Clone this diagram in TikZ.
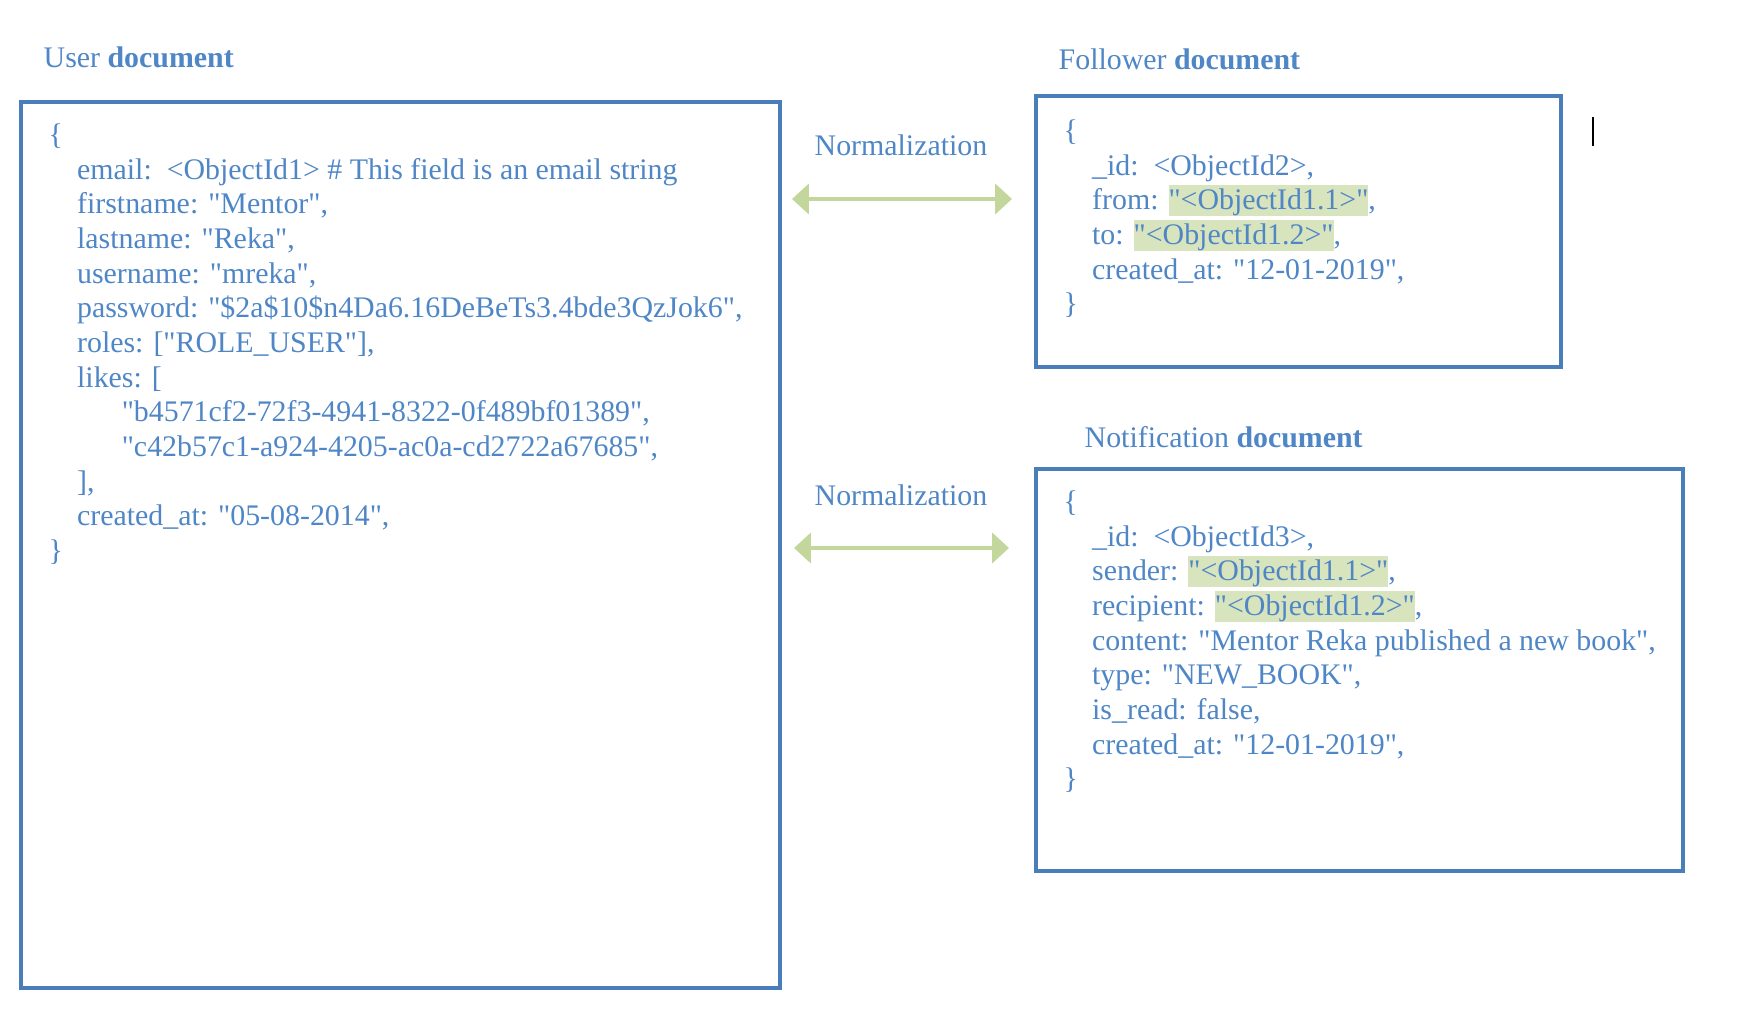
\documentclass[tikz,border=0pt]{standalone}
\usepackage{fontspec}
\setmainfont{Liberation Serif}
\usetikzlibrary{arrows.meta}

\definecolor{docblue}{HTML}{4A7EBB}
\definecolor{textblue}{HTML}{4F86C6}
\definecolor{normgreen}{HTML}{C3D69B}
\definecolor{hlgreen}{HTML}{D7E4BD}

% straight quote and highlighted reference ids
\newcommand{\dq}{\textquotedbl}
\newcommand{\hlid}[1]{{\setlength{\fboxsep}{0pt}\colorbox{hlgreen}{\rule[-1.8pt]{0pt}{8.8pt}#1}}}
\newcommand{\ind}{\hspace*{8.1pt}}
\newcommand{\indd}{\hspace*{20.8pt}}
\newcommand{\firstln}{\rule{0pt}{7pt}}

\tikzset{
  docbox/.style={draw=docblue,line width=1pt},
  doctitle/.style={anchor=base west,inner sep=0,text=textblue},
  doccode/.style={anchor=north west,inner sep=0,align=left,text=textblue},
  normarrow/.style={draw=normgreen,line width=1.3pt,
    {Triangle[length=4.8pt,width=8.5pt]}-{Triangle[length=4.8pt,width=8.5pt]}}
}

\begin{document}
\begin{tikzpicture}[x=0.1mm,y=-0.1mm,font=\fontsize{8.5}{9.87}\selectfont]
  \useasboundingbox (0,0) rectangle (1754,1032);

  % user document
  \node[doctitle] (usertitle) at (43,67) {User \textbf{document}};
  \draw[docbox] (21,102) rectangle (780,988);
  \node[doccode] (usercode) at (48,119) {\firstln\{\\
    \ind email:\ \ <ObjectId1> \# This field is an email string\\
    \ind firstname: \dq Mentor\dq,\\
    \ind lastname: \dq Reka\dq,\\
    \ind username: \dq mreka\dq,\\
    \ind password: \dq\$2a\$10\$n4Da6.16DeBeTs3.4bde3QzJok6\dq,\\
    \ind roles: [\dq ROLE\_USER\dq],\\
    \ind likes: [\\
    \indd \dq b4571cf2-72f3-4941-8322-0f489bf01389\dq,\\
    \indd \dq c42b57c1-a924-4205-ac0a-cd2722a67685\dq,\\
    \ind ],\\
    \ind created\_at: \dq 05-08-2014\dq,\\
    \}};

  % follower document
  \node[doctitle] (followtitle) at (1058,69) {Follower \textbf{document}};
  \draw[docbox] (1036,96) rectangle (1561,367);
  \node[doccode] (followcode) at (1063,115) {\firstln\{\\
    \ind \_id:\ \ <ObjectId2>,\\
    \ind from: \hlid{\dq<ObjectId1.1>\dq},\\
    \ind to: \hlid{\dq<ObjectId1.2>\dq},\\
    \ind created\_at: \dq 12-01-2019\dq,\\
    \}};
  \draw[black,line width=0.6pt] (1593,117) -- (1593,146);

  % notification document
  \node[doctitle] (notiftitle) at (1084,447) {Notification \textbf{document}};
  \draw[docbox] (1036,469) rectangle (1683,871);
  \node[doccode] (notifcode) at (1063,486) {\firstln\{\\
    \ind \_id:\ \ <ObjectId3>,\\
    \ind sender: \hlid{\dq<ObjectId1.1>\dq},\\
    \ind recipient: \hlid{\dq<ObjectId1.2>\dq},\\
    \ind content: \dq Mentor Reka published a new book\dq,\\
    \ind type: \dq NEW\_BOOK\dq,\\
    \ind is\_read: false,\\
    \ind created\_at: \dq 12-01-2019\dq,\\
    \}};

  % normalization arrows
  \node[doctitle] (normup) at (814,155) {Normalization};
  \coordinate (upl) at (792,199);
  \coordinate (upr) at (1012,199);
  \draw[normarrow] (upl) -- (upr);

  \node[doctitle] (normdown) at (814,505) {Normalization};
  \coordinate (downl) at (794,548);
  \coordinate (downr) at (1009,548);
  \draw[normarrow] (downl) -- (downr);
\end{tikzpicture}
\end{document}
